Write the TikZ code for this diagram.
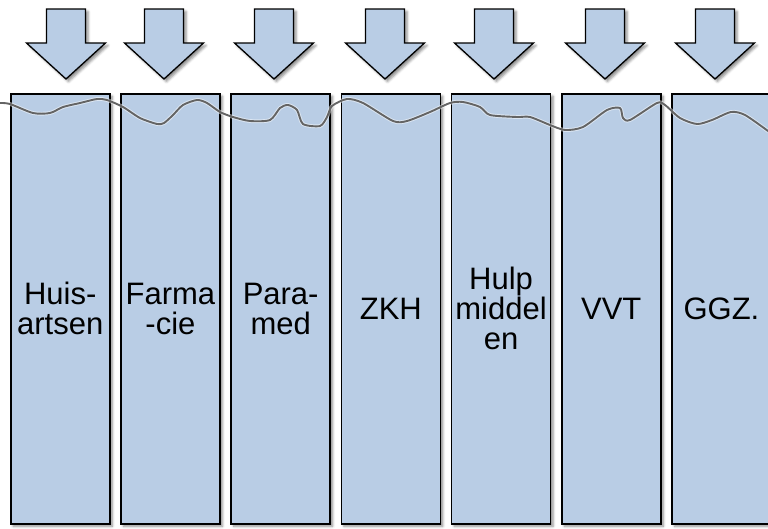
\documentclass[tikz,border=0pt]{standalone}
\usepackage{fontspec}
\setmainfont{Liberation Sans}
\usetikzlibrary{shadows.blur}
\definecolor{sectorfill}{HTML}{B9CDE5}
\definecolor{wavegrey}{HTML}{646464}
\tikzset{
  softshadow/.style={blur shadow={shadow xshift=2.5pt, shadow yshift=-2.5pt,
      shadow blur radius=2.5pt, shadow opacity=45}},
  sector/.style={draw=black, line width=1.5pt, fill=sectorfill, softshadow,
      minimum width=99pt, minimum height=430pt, inner sep=0pt, anchor=north west,
      align=center, font=\fontsize{31}{30}\selectfont},
  inflow/.style={draw=black, line width=1.3pt, fill=sectorfill, line join=miter, softshadow},
  wave/.style={line width=1.9pt, draw=wavegrey, line join=round, line cap=round},
  wavehalo/.style={line width=3.8pt, draw=white, opacity=0.5, line join=round, line cap=round}
}
\begin{document}
\begin{tikzpicture}[x=1pt, y=-1pt]
  \path[use as bounding box, clip] (0,0) rectangle (768,528);

  % downward arrows feeding each sector
  \foreach \t in {66,164,274,385,494,605,715} {
    \draw[inflow] (\t-19.5,9) -- (\t+19.5,9) -- (\t+19.5,43) -- (\t+39.5,43)
      -- (\t,79) -- (\t-39.5,43) -- (\t-19.5,43) -- cycle;
  }

  % care sectors
  \node[sector] (huis)  at (10,93)    {Huis-\\artsen};
  \node[sector] (farma) at (120.2,93) {Farma\\-cie};
  \node[sector] (para)  at (230.4,93) {Para-\\med};
  \node[sector] (zkh)   at (340.6,93) {ZKH};
  \node[sector] (hulp)  at (450.8,93) {Hulp\\middel\\en};
  \node[sector] (vvt)   at (561,93)   {VVT};
  \node[sector] (ggz)   at (671.2,93) {GGZ.};

  % wavy level line across the sectors
  \def\wavepts{(0,103) (10,104) (33,113) (50,113) (63,107) (80,103) (97,99)
    (107,100) (123,107) (140,118) (157,124) (164,123) (173,115) (183,105)
    (197,100) (207,103) (220,112) (233,117) (250,121) (270,120) (280,108)
    (288,105) (297,110) (303,124) (320,126) (327,117) (332,106) (347,99)
    (363,103) (393,121) (407,121) (430,112) (450,103) (463,102) (480,107)
    (490,115) (517,117) (530,117) (550,125) (565,130) (583,127) (607,110)
    (620,108) (623,118) (630,120) (657,103) (665,105) (680,118) (697,124)
    (712,120) (731,112) (745,115) (768,131)}
  \draw[wavehalo] plot[smooth, tension=0.45] coordinates {\wavepts};
  \draw[wave] plot[smooth, tension=0.45] coordinates {\wavepts};
\end{tikzpicture}
\end{document}
